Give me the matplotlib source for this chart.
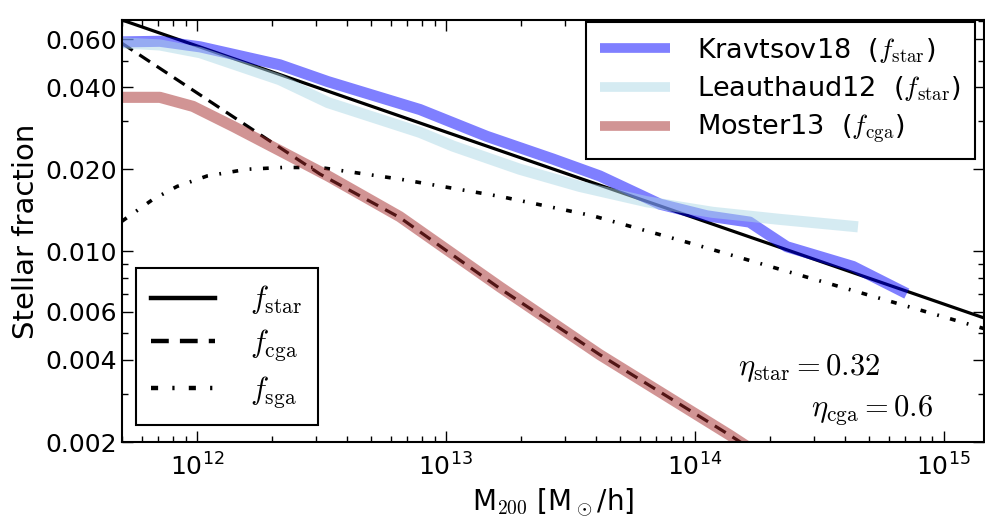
import numpy as np
import matplotlib
matplotlib.use("Agg")
import matplotlib.pyplot as plt

plt.rcParams['mathtext.fontset'] = 'cm'
plt.rcParams['font.family'] = 'DejaVu Sans'

# halo masses in units of 1e12 M_sun/h, fractions
m_star = [0.5, 1450]
f_star = [0.0705, 0.0057]

m_cga = [0.5, 3.12, 6.53, 16.5, 41.5, 138, 219]
f_cga = [0.0579, 0.0192, 0.0133, 0.0073, 0.00418, 0.00212, 0.00161]

m_sga = [0.5, 0.665, 0.832, 1.10, 1.59, 2.21, 3.12, 6.53, 16.5, 38.9, 100, 219, 1460]
f_sga = [0.0129, 0.0155, 0.0173, 0.0189, 0.0200, 0.0203, 0.0203, 0.0184, 0.0159,
         0.0135, 0.0106, 0.0086, 0.0052]

m_krav = [0.5, 0.71, 1.03, 2.15, 3.36, 7.87, 14.6, 26.9, 41.5, 72.3, 111.7, 166,
          182, 234, 432, 710]
f_krav = [0.0586, 0.0589, 0.0562, 0.0483, 0.0419, 0.0331, 0.0264, 0.0218, 0.0189,
          0.0149, 0.0135, 0.0128, 0.0121, 0.0104, 0.0088, 0.0070]

m_leau = [0.5, 0.71, 1.03, 2.15, 3.36, 7.87, 10.7, 19.8, 34.5, 64.1, 118, 219, 452]
f_leau = [0.0581, 0.0571, 0.0535, 0.0426, 0.0351, 0.0273, 0.0243, 0.0200, 0.0173,
          0.0152, 0.0139, 0.0131, 0.0123]

m_most = [0.5, 0.71, 0.964, 1.40, 2.21, 3.36, 6.53, 16.5, 41.5, 138, 219]
f_most = [0.0367, 0.0367, 0.0340, 0.0287, 0.0231, 0.0189, 0.0134, 0.0074, 0.00418,
          0.00212, 0.00161]

yticks = [0.002, 0.004, 0.006, 0.010, 0.020, 0.040, 0.060]


def m(a):
    return np.array(a) * 1e12


fig = plt.figure(figsize=(9.85, 5.18), dpi=100)
ax = fig.add_axes([122 / 985, 1 - 442 / 518, 862 / 985, 422 / 518])

l1, = ax.plot(m(m_star), f_star, 'k-', lw=2.3)
l2, = ax.plot(m(m_cga), f_cga, color='k', lw=2.3, linestyle=(0, (4, 2.5)))
l3, = ax.plot(m(m_sga), f_sga, color='k', lw=2.6, linestyle=(0, (1.6, 3.2, 0.5, 3.2)))

b1, = ax.plot(m(m_krav), f_krav, color='blue', alpha=0.5, lw=8, solid_capstyle='butt')
b2, = ax.plot(m(m_leau), f_leau, color='lightblue', alpha=0.5, lw=8, solid_capstyle='butt')
b3, = ax.plot(m(m_most), f_most, color='brown', alpha=0.5, lw=8, solid_capstyle='butt')

ax.set_xscale('log')
ax.set_yscale('log')
ax.set_xlim(5e11, 1.45e15)
ax.set_ylim(0.002, 0.0705)
ax.set_yticks(yticks)
ax.set_yticklabels(['%.3f' % t for t in yticks])

ax.tick_params(which='both', direction='in', top=True, right=True, labelsize=18)
ax.tick_params(which='major', length=8, width=1)
ax.tick_params(which='minor', length=4, width=1)
ax.tick_params(axis='x', pad=8)
for s in ax.spines.values():
    s.set_linewidth(1.5)

ax.set_xlabel(r'M$_{200}$ [M$_\odot$/h]', fontsize=20)
ax.set_ylabel('Stellar fraction', fontsize=21)

leg1 = ax.legend([b1, b2, b3],
                 [r'Kravtsov18  ($f_{\rm star}$)', r'Leauthaud12  ($f_{\rm star}$)',
                  r'Moster13  ($f_{\rm cga}$)'],
                 loc='upper right', bbox_to_anchor=(0.989, 0.995), borderaxespad=0,
                 fontsize=19.5, fancybox=False, framealpha=1, edgecolor='k',
                 labelspacing=0.35, handlelength=2.6, handletextpad=1.0,
                 borderpad=0.5)
leg1.get_frame().set_linewidth(1.5)
for h in leg1.legend_handles:
    h.set_linewidth(7)
ax.add_artist(leg1)

leg2 = ax.legend([l1, l2, l3], [r'$f_{\rm star}$', r'$f_{\rm cga}$', r'$f_{\rm sga}$'],
                 loc='lower left', bbox_to_anchor=(0.016, 0.04), borderaxespad=0,
                 fontsize=22, fancybox=False, framealpha=1, edgecolor='k',
                 labelspacing=0.35, handlelength=2.1, handletextpad=1.15,
                 borderpad=0.5)
leg2.get_frame().set_linewidth(1.5)
for h in leg2.legend_handles:
    h.set_linewidth(3.2)

ax.text(0.88, 0.175, r'$\eta_{\rm star}=0.32$', transform=ax.transAxes,
        ha='right', va='center', fontsize=22)
ax.text(0.941, 0.075, r'$\eta_{\rm cga}=0.6$', transform=ax.transAxes,
        ha='right', va='center', fontsize=22)

fig.savefig('out.png', dpi=100)
